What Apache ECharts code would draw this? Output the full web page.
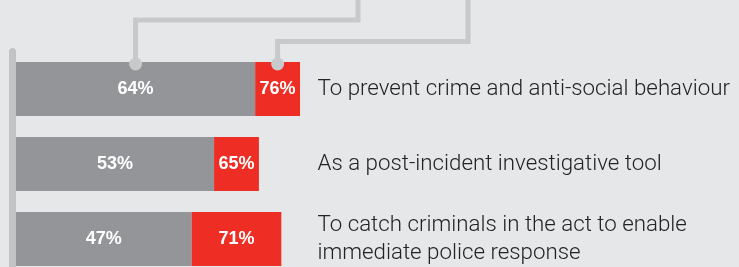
<!DOCTYPE html>
<html><head><meta charset="utf-8">
<script src="https://cdn.jsdelivr.net/npm/echarts@6/dist/echarts.min.js"></script>
<style>html,body{margin:0;padding:0;background:#e6e7e8;overflow:hidden;}#c{width:739px;height:285px;}</style>
</head><body><div id="c"></div>
<script>
const categories = [
  'To prevent crime and anti-social behaviour',
  'As a post-incident investigative tool',
  'To catch criminals in the act to enable\nimmediate police response'
];
const greyValues = [64, 53, 47];
const redValues = [76, 65, 71];

const chart = echarts.init(document.getElementById('c'), null, {renderer: 'canvas'});
const extra = redValues.map((v, i) => v - greyValues[i]);
const pctLabel = {
  show: true, position: 'inside', color: '#ffffff', fontFamily: 'Liberation Sans',
  fontWeight: 'bold', fontSize: 18
};
chart.setOption({
  backgroundColor: '#e6e7e8',
  animation: false,
  grid: {left: 16, top: 51.5, width: 291.5, height: 225, containLabel: false, outerBoundsMode: 'none'},
  xAxis: {type: 'value', min: 0, max: 78, show: false},
  yAxis: [
    {type: 'category', data: categories, inverse: true, position: 'right',
     axisLine: {show: false}, axisTick: {show: false},
     axisLabel: {align: 'left', margin: 10, color: '#232323', fontFamily: 'Roboto',
       fontWeight: 300, fontSize: 22.3, lineHeight: 28}},
    {type: 'category', data: categories, inverse: true, position: 'left', offset: 3.5,
     axisLine: {show: true, lineStyle: {color: '#c2c3c5', width: 7}},
     axisTick: {show: false}, axisLabel: {show: false}}
  ],
  series: [
    {type: 'bar', stack: 's', data: greyValues, barWidth: 54, itemStyle: {color: '#939598'},
     label: Object.assign({}, pctLabel, {formatter: p => greyValues[p.dataIndex] + '%'})},
    {type: 'bar', stack: 's', data: extra, barWidth: 54, itemStyle: {color: '#ee2e24'},
     label: Object.assign({}, pctLabel, {formatter: p => redValues[p.dataIndex] + '%'})}
  ]
});

// connector callouts linking the first bar to the (off-canvas) legend above
const gx = chart.convertToPixel({gridIndex: 0}, [greyValues[0] / 2, 0])[0];
const rx = chart.convertToPixel({gridIndex: 0}, [(greyValues[0] + redValues[0]) / 2, 0])[0];
const dotY = 64;
const lineStyle = {stroke: '#c8c9cb', lineWidth: 5, fill: null};
chart.setOption({
  graphic: [
    {type: 'polyline', shape: {points: [[gx, dotY], [gx, 20], [358, 20], [358, -5]]}, style: lineStyle, z: 10},
    {type: 'polyline', shape: {points: [[rx, dotY], [rx, 41.5], [468, 41.5], [468, -5]]}, style: lineStyle, z: 10},
    {type: 'circle', shape: {cx: gx, cy: dotY, r: 6.5}, style: {fill: '#c8c9cb'}, z: 11},
    {type: 'circle', shape: {cx: rx, cy: dotY, r: 6.5}, style: {fill: '#c8c9cb'}, z: 11}
  ]
});
</script></body></html>
